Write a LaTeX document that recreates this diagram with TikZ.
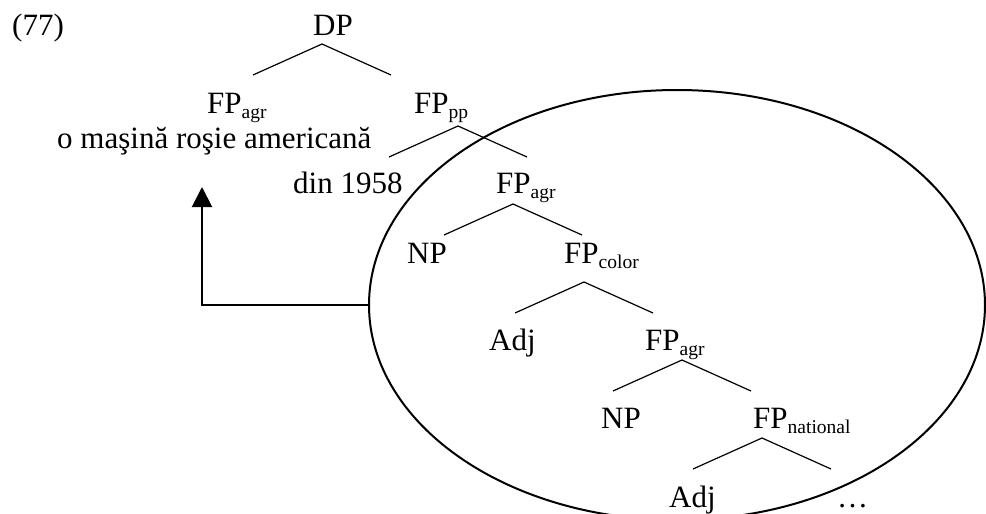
\documentclass[tikz,border=0pt]{standalone}
\usepackage{fontspec}
\setmainfont{Liberation Serif}
\usetikzlibrary{shapes.geometric,arrows.meta}
\newcommand{\lbl}[2]{#1\raisebox{-5.5pt}{\fontsize{19.5}{20}\selectfont #2}}
\begin{document}
\begin{tikzpicture}[x=1pt,y=-1pt,
  txt/.style={anchor=base west,inner sep=0pt,font=\fontsize{31}{34}\selectfont},
  branch/.style={line width=1.2pt},
  thick line/.style={line width=2pt}]
\useasboundingbox (0,0) rectangle (986,514);
\clip (0,0) rectangle (986,514);
\node[txt] (ex) at (12,35) {(77)};
\node[txt] (dp) at (313,35) {DP};
\node[txt] (fpagr1) at (207,113) {\lbl{FP}{agr}};
\node[txt] (fppp) at (414,113) {\lbl{FP}{pp}};
\node[txt] (phrase) at (57,148) {o maşină roşie americană};
\node[txt] (din) at (293,193) {din 1958};
\node[txt] (fpagr2) at (496,193) {\lbl{FP}{agr}};
\node[txt] (np1) at (407,263) {NP};
\node[txt] (fpcolor) at (564,263) {\lbl{FP}{color}};
\node[txt] (adj1) at (489,350) {Adj};
\node[txt] (fpagr3) at (645,350) {\lbl{FP}{agr}};
\node[txt] (np2) at (601,428) {NP};
\node[txt] (fpnat) at (753,428) {\lbl{FP}{national}};
\node[txt] (adj2) at (669,507) {Adj};
\node[txt] (dots) at (837,507) {\ldots};
% branches
\foreach \n/\x/\y in {a/322/44, b/458/126, c/513/204, d/584/282, e/682/360, f/762/438}{
  \coordinate (\n A) at (\x,\y);
  \coordinate (\n L) at (\x-69,\y+31);
  \coordinate (\n R) at (\x+69,\y+31);
  \draw[branch] (\n L) -- (\n A) -- (\n R);
}
% ellipse
\node[draw,ellipse,thick line,minimum width=616pt,minimum height=430pt,inner sep=0pt] (ell) at (677,305) {};
\coordinate (tip) at (202,187);
\draw[thick line,-{Triangle[width=20pt,length=20pt]}] (ell.west) -| (tip);
\end{tikzpicture}
\end{document}
